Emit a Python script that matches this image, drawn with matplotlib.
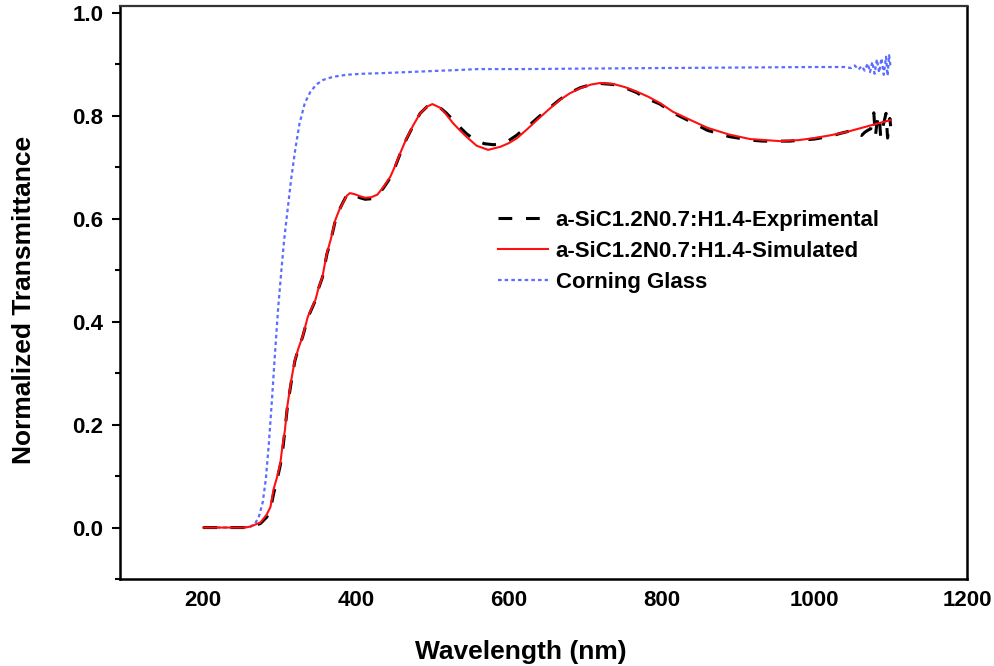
import matplotlib
matplotlib.use("Agg")
import matplotlib.pyplot as plt
from matplotlib.ticker import MultipleLocator

plt.rcParams["font.family"] = ["Liberation Sans", "DejaVu Sans"]
plt.rcParams["font.weight"] = "bold"

# Wavelength (nm) / normalized transmittance of the film and substrate
exp_wl = [200, 220, 240, 258, 265, 275, 283, 288, 292, 297, 301, 304, 307, 310,
          313, 316, 320, 325, 330, 337, 347, 351, 356, 362, 367, 373, 378, 383,
          388, 392, 398, 405, 412, 420, 428, 436, 445, 451, 458, 466, 475, 484,
          493, 500, 510, 518, 527, 536, 545, 556, 568, 580, 591, 600, 610, 619,
          630, 640, 652, 667, 680, 694, 708, 720, 737, 750, 768, 776, 798, 815,
          838, 860, 888, 916, 933, 968, 1000, 1020, 1034, 1045, 1052, 1058, 1062,
          1066, 1070, 1074, 1078, 1080, 1082, 1085, 1087, 1090, 1094, 1096, 1099,
          1100]
exp_t = [0.0, 0.0, 0.0, 0.0, 0.002, 0.008, 0.02, 0.035, 0.065, 0.095, 0.122,
         0.15, 0.19, 0.232, 0.262, 0.29, 0.324, 0.35, 0.37, 0.408, 0.442, 0.465,
         0.486, 0.532, 0.558, 0.597, 0.617, 0.632, 0.646, 0.649, 0.646, 0.641,
         0.638, 0.639, 0.645, 0.660, 0.680, 0.700, 0.727, 0.755, 0.781, 0.805,
         0.818, 0.820, 0.816, 0.806, 0.792, 0.778, 0.765, 0.753, 0.746, 0.744,
         0.746, 0.752, 0.762, 0.773, 0.786, 0.799, 0.814, 0.832, 0.845, 0.855,
         0.861, 0.863, 0.861, 0.856, 0.845, 0.837, 0.823, 0.806, 0.789, 0.772,
         0.760, 0.753, 0.751, 0.751, 0.755, 0.760, 0.766, 0.770, 0.772, 0.765,
         0.762, 0.768, 0.772, 0.775, 0.806, 0.760, 0.785, 0.803, 0.758, 0.780,
         0.805, 0.757, 0.795, 0.780]

sim_wl = [200, 220, 240, 255, 262, 275, 283, 288, 292, 297, 301, 303, 307, 310,
          313, 316, 320, 325, 330, 337, 347, 351, 356, 362, 367, 373, 378, 383,
          388, 392, 398, 405, 412, 420, 428, 436, 445, 451, 458, 466, 475, 484,
          493, 500, 510, 518, 527, 536, 545, 558, 573, 589, 600, 611, 624, 637,
          652, 667, 680, 694, 708, 720, 737, 752, 768, 783, 798, 815, 838, 860,
          888, 916, 955, 980, 1000, 1020, 1043, 1070, 1100]
sim_t = [0.0, 0.0, 0.0, 0.0, 0.002, 0.01, 0.025, 0.04, 0.074, 0.10, 0.126, 0.15,
         0.19, 0.235, 0.265, 0.293, 0.326, 0.35, 0.371, 0.41, 0.443, 0.466,
         0.487, 0.534, 0.56, 0.598, 0.617, 0.631, 0.645, 0.650, 0.648, 0.644,
         0.641, 0.642, 0.647, 0.662, 0.682, 0.702, 0.728, 0.756, 0.782, 0.805,
         0.818, 0.823, 0.816, 0.803, 0.786, 0.772, 0.759, 0.742, 0.734, 0.740,
         0.747, 0.757, 0.774, 0.792, 0.812, 0.831, 0.844, 0.854, 0.861, 0.864,
         0.862, 0.856, 0.847, 0.837, 0.825, 0.808, 0.792, 0.777, 0.764, 0.755,
         0.751, 0.753, 0.757, 0.762, 0.769, 0.780, 0.792]

glass_wl = [200, 230, 250, 262, 268, 273, 278, 282, 286, 290, 294, 298, 302, 306,
            310, 315, 320, 326, 333, 340, 348, 357, 370, 388, 410, 432, 465, 497,
            530, 560, 620, 700, 800, 900, 1000, 1040, 1048, 1053, 1058, 1062, 1066,
            1070, 1073, 1076, 1079, 1082, 1085, 1088, 1091, 1094, 1096, 1098, 1100]
glass_t = [0.0, 0.0, 0.0, 0.002, 0.008, 0.022, 0.05, 0.095, 0.165, 0.249, 0.340,
           0.425, 0.495, 0.560, 0.612, 0.676, 0.730, 0.785, 0.825, 0.846, 0.861,
           0.870, 0.876, 0.880, 0.882, 0.883, 0.885, 0.887, 0.889, 0.891, 0.891,
           0.892, 0.893, 0.894, 0.895, 0.895, 0.893, 0.898, 0.890, 0.897, 0.888,
           0.902, 0.885, 0.905, 0.882, 0.910, 0.884, 0.912, 0.880, 0.915, 0.878,
           0.918, 0.895]

labels = ["a-SiC1.2N0.7:H1.4-Exprimental",
          "a-SiC1.2N0.7:H1.4-Simulated",
          "Corning Glass"]

fig = plt.figure(figsize=(9.95, 6.66), dpi=100)
ax = fig.add_axes([120 / 995, 1 - 579 / 666, (967 - 120) / 995, (579 - 6) / 666])

ax.plot(exp_wl, exp_t, color="black", lw=2.2, dashes=(4.5, 4.5), label=labels[0], zorder=3)
ax.plot(sim_wl, sim_t, color="#ff1010", lw=1.5, label=labels[1], zorder=4)
ax.plot(glass_wl, glass_t, color="#5b6cff", lw=1.6, dashes=(1.6, 1.4), label=labels[2], zorder=2)

ax.set_xlim(91, 1200)
ax.set_ylim(-0.1, 1.0136)
ax.set_xticks([200, 400, 600, 800, 1000, 1200])
ax.set_yticks([0.0, 0.2, 0.4, 0.6, 0.8, 1.0])
ax.set_yticklabels(["0.0", "0.2", "0.4", "0.6", "0.8", "1.0"])
ax.yaxis.set_minor_locator(MultipleLocator(0.1))

ax.tick_params(axis="x", length=0, pad=8, labelsize=16)
ax.tick_params(axis="y", which="major", direction="out", length=6, width=1.5, pad=6, labelsize=16)
ax.tick_params(axis="y", which="minor", direction="out", length=3.5, width=1.5)
for lab in ax.get_xticklabels() + ax.get_yticklabels():
    lab.set_fontweight("bold")

for side in ["left", "bottom", "right"]:
    ax.spines[side].set_linewidth(1.8)
ax.spines["top"].set_linewidth(1.6)
ax.spines["top"].set_color("#333333")

ax.set_xlabel("Wavelength (nm)", fontsize=19, fontweight="bold", labelpad=21)
ax.set_ylabel("Normalized Transmittance", fontsize=19, fontweight="bold", labelpad=26)
ax.xaxis.label.set_x((521 - 120) / 847)
ax.yaxis.label.set_y((579 - 300) / 573)

leg = ax.legend(loc="upper left", bbox_to_anchor=(498 / 995, 1 - 210 / 666),
                bbox_transform=fig.transFigure, frameon=False, borderpad=0,
                borderaxespad=0, handlelength=2.25, handletextpad=0.35,
                labelspacing=0.44, prop={"size": 16, "weight": "bold"})

fig.savefig("out.png", dpi=100)
